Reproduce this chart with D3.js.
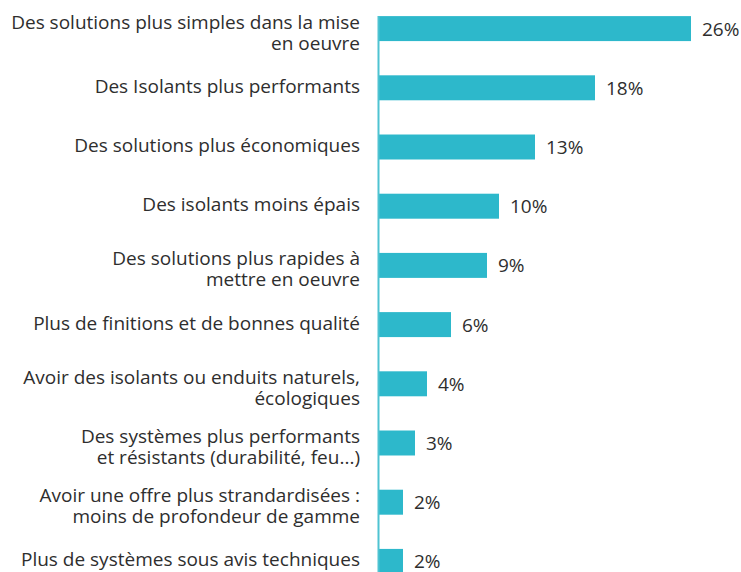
<!DOCTYPE html>
<html>
<head>
<meta charset="utf-8">
<script src="https://cdn.jsdelivr.net/npm/d3@7"></script>
<style>
  html, body { margin: 0; padding: 0; background: #fff; }
  svg { display: block; }
  text { font-variant-ligatures: none; }
</style>
</head>
<body>
<div id="chart"></div>
<script>
// Survey answers (one entry per line of a multi-line label)
const categories = [
  ["Des solutions plus simples dans la mise", "en oeuvre"],
  ["Des Isolants plus performants"],
  ["Des solutions plus économiques"],
  ["Des isolants moins épais"],
  ["Des solutions plus rapides à", "mettre en oeuvre"],
  ["Plus de finitions et de bonnes qualité"],
  ["Avoir des isolants ou enduits naturels,", "écologiques"],
  ["Des systèmes plus performants", "et résistants (durabilité, feu...)"],
  ["Avoir une offre plus strandardisées :", "moins de profondeur de gamme"],
  ["Plus de systèmes sous avis techniques"]
];
const values = [26, 18, 13, 10, 9, 6, 4, 3, 2, 2];
const valueLabels = values.map(v => v + "%");

const width = 741, height = 572;
const axisX = 379;
const barColor = "#2db8cb";
const textColor = "#2e2e2e";
const font = "'Open Sans', 'Noto Sans', sans-serif";
const fontSize = 19;

const svg = d3.select("#chart").append("svg")
  .attr("width", width).attr("height", height);

const keys = categories.map((c, i) => i);

const y = d3.scaleBand()
  .domain(keys)
  .range([-1, 591])
  .paddingInner(0.578)
  .paddingOuter(0.289);

const x = d3.scaleLinear()
  .domain([0, 30])
  .range([axisX, axisX + 360]);

// bars
svg.append("g").selectAll("rect")
  .data(values)
  .join("rect")
  .attr("x", x(0))
  .attr("y", (d, i) => y(i))
  .attr("width", d => x(d) - x(0))
  .attr("height", y.bandwidth())
  .attr("fill", barColor);

// vertical category axis line
svg.append("line")
  .attr("x1", axisX - 0.5).attr("x2", axisX - 0.5)
  .attr("y1", y(0)).attr("y2", height)
  .attr("stroke", "#4fc3d2")
  .attr("stroke-width", 2);

// category labels, right-aligned left of the axis
const lineH = 21;
const labels = svg.append("g")
  .attr("font-family", font)
  .attr("font-size", fontSize)
  .attr("fill", textColor)
  .attr("text-anchor", "end");

categories.forEach((lines, i) => {
  const cy = y(i) + y.bandwidth() / 2;
  const first = lines.length > 1 ? cy - 7 : cy - 2;
  const t = labels.append("text")
    .attr("x", axisX - 19)
    .attr("y", first)
    .attr("dominant-baseline", "central");
  lines.forEach((ln, j) => {
    t.append("tspan")
      .attr("x", axisX - 19)
      .attr("y", first + j * lineH)
      .text(ln);
  });
});

// value labels at bar ends
svg.append("g")
  .attr("font-family", font)
  .attr("font-size", fontSize)
  .attr("fill", textColor)
  .selectAll("text")
  .data(values)
  .join("text")
  .attr("x", d => x(d) + 11)
  .attr("y", (d, i) => y(i) + y.bandwidth() / 2)
  .attr("dominant-baseline", "central")
  .text((d, i) => valueLabels[i]);
</script>
</body>
</html>
